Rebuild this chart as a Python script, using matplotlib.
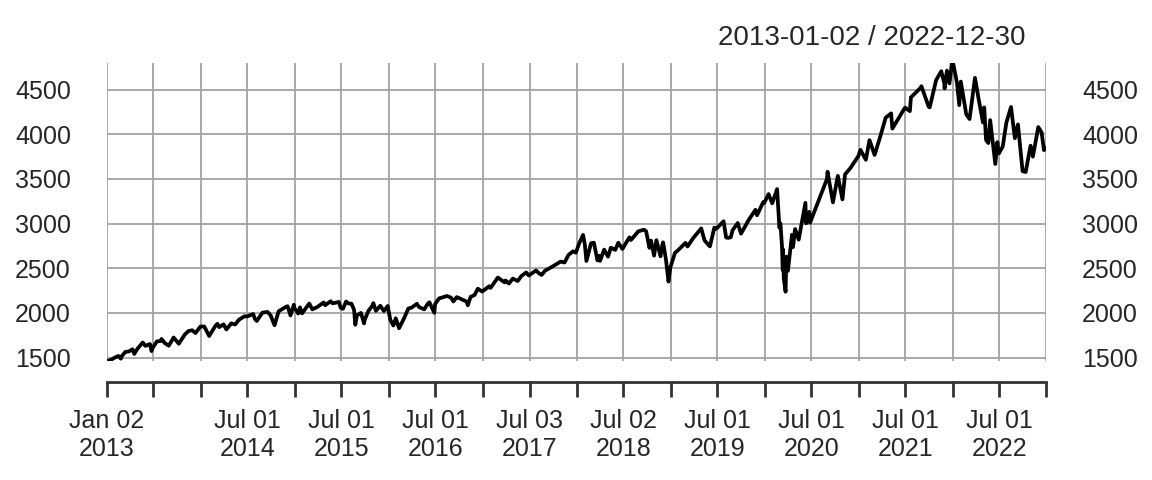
import matplotlib
matplotlib.use('Agg')
import matplotlib.pyplot as plt
import numpy as np
import pandas as pd

# S&P 500 close (key swings per month)
dates = [
    "2013-01-02", "2013-01-15", "2013-01-31", "2013-02-15", "2013-02-25", "2013-02-28", "2013-03-14", "2013-03-28",
    "2013-04-11", "2013-04-18", "2013-04-30", "2013-05-21", "2013-05-31", "2013-06-18", "2013-06-24", "2013-06-28",
    "2013-07-15", "2013-07-31", "2013-08-02", "2013-08-15", "2013-08-30", "2013-09-18", "2013-09-30", "2013-10-08",
    "2013-10-31", "2013-11-15", "2013-11-29", "2013-12-12", "2013-12-31",
    "2014-01-15", "2014-02-03", "2014-02-28", "2014-03-07", "2014-03-14", "2014-03-31", "2014-04-11", "2014-04-30",
    "2014-05-15", "2014-05-30", "2014-06-20", "2014-06-30", "2014-07-24", "2014-07-31", "2014-08-07", "2014-08-29",
    "2014-09-18", "2014-09-30", "2014-10-15", "2014-10-31", "2014-11-28", "2014-12-05", "2014-12-16", "2014-12-29",
    "2014-12-31",
    "2015-01-15", "2015-01-22", "2015-01-30", "2015-02-27", "2015-03-11", "2015-03-31", "2015-04-24", "2015-04-30",
    "2015-05-21", "2015-05-29", "2015-06-22", "2015-06-29", "2015-07-08", "2015-07-20", "2015-07-31", "2015-08-10",
    "2015-08-20", "2015-08-25", "2015-08-31", "2015-09-16", "2015-09-28", "2015-09-30", "2015-10-15", "2015-10-30",
    "2015-11-03", "2015-11-13", "2015-11-30", "2015-12-14", "2015-12-29", "2015-12-31",
    "2016-01-08", "2016-01-20", "2016-01-29", "2016-02-11", "2016-02-29", "2016-03-18", "2016-03-31", "2016-04-20",
    "2016-04-29", "2016-05-19", "2016-05-31", "2016-06-08", "2016-06-27", "2016-06-30", "2016-07-15", "2016-07-29",
    "2016-08-15", "2016-08-31", "2016-09-09", "2016-09-22", "2016-09-30", "2016-10-31", "2016-11-04", "2016-11-15",
    "2016-11-30", "2016-12-13", "2016-12-30",
    "2017-01-26", "2017-01-31", "2017-03-01", "2017-03-27", "2017-03-31", "2017-04-13", "2017-04-28", "2017-05-17",
    "2017-05-31", "2017-06-19", "2017-06-29", "2017-07-27", "2017-08-10", "2017-08-18", "2017-08-31", "2017-09-29",
    "2017-10-31", "2017-11-15", "2017-11-30", "2017-12-18", "2017-12-29",
    "2018-01-12", "2018-01-26", "2018-02-02", "2018-02-08", "2018-02-26", "2018-03-09", "2018-03-23", "2018-03-29",
    "2018-04-02", "2018-04-18", "2018-05-03", "2018-05-14", "2018-05-31", "2018-06-12", "2018-06-28", "2018-07-25",
    "2018-07-31", "2018-08-29", "2018-09-20", "2018-09-28", "2018-10-11", "2018-10-17", "2018-10-29", "2018-11-07",
    "2018-11-23", "2018-11-30", "2018-12-03", "2018-12-14", "2018-12-24", "2018-12-31",
    "2019-01-18", "2019-01-31", "2019-02-28", "2019-03-08", "2019-03-29", "2019-04-30", "2019-05-13", "2019-05-31",
    "2019-06-03", "2019-06-20", "2019-06-28", "2019-07-26", "2019-08-05", "2019-08-14", "2019-08-23", "2019-08-30",
    "2019-09-19", "2019-10-02", "2019-10-31", "2019-11-27", "2019-12-03", "2019-12-27", "2019-12-31",
    "2020-01-17", "2020-01-31", "2020-02-19", "2020-02-28", "2020-03-03", "2020-03-09", "2020-03-12", "2020-03-13",
    "2020-03-16", "2020-03-23", "2020-03-26", "2020-04-01", "2020-04-17", "2020-04-21", "2020-04-29", "2020-05-13",
    "2020-06-08", "2020-06-11", "2020-06-23", "2020-06-26", "2020-07-31", "2020-08-31", "2020-09-02", "2020-09-23",
    "2020-10-12", "2020-10-30", "2020-11-09", "2020-11-30", "2020-12-31",
    "2021-01-08", "2021-01-29", "2021-02-12", "2021-03-04", "2021-03-26", "2021-04-16", "2021-05-07", "2021-05-12",
    "2021-06-30", "2021-07-19", "2021-07-23", "2021-08-31", "2021-09-02", "2021-09-30", "2021-10-04", "2021-10-29",
    "2021-11-18", "2021-11-30", "2021-12-01", "2021-12-10", "2021-12-20", "2021-12-29", "2021-12-31",
    "2022-01-03", "2022-01-18", "2022-01-27", "2022-02-02", "2022-02-23", "2022-03-08", "2022-03-29", "2022-04-12",
    "2022-04-29", "2022-05-04", "2022-05-11", "2022-05-20", "2022-05-27", "2022-06-16", "2022-06-24", "2022-06-30",
    "2022-07-15", "2022-07-29", "2022-08-16", "2022-08-31", "2022-09-12", "2022-09-30", "2022-10-12", "2022-10-31",
    "2022-11-09", "2022-11-30", "2022-12-13", "2022-12-22", "2022-12-30",
]
close = [
    1462, 1472, 1498, 1519, 1488, 1515, 1563, 1569,
    1593, 1541, 1598, 1669, 1631, 1652, 1573, 1606,
    1682, 1686, 1709, 1661, 1633, 1725, 1682, 1655,
    1757, 1798, 1806, 1775, 1848,
    1848, 1742, 1859, 1878, 1841, 1872, 1815, 1884,
    1870, 1924, 1963, 1960, 1988, 1931, 1910, 2003,
    2011, 1972, 1862, 2018, 2068, 2075, 1972, 2091,
    2059,
    1993, 2063, 1995, 2105, 2040, 2068, 2117, 2086,
    2131, 2107, 2123, 2058, 2046, 2128, 2104, 2104,
    2035, 1868, 1972, 2000, 1882, 1920, 2023, 2079,
    2110, 2023, 2080, 2021, 2078, 2044,
    1922, 1859, 1940, 1829, 1932, 2049, 2060, 2102,
    2065, 2040, 2097, 2119, 2001, 2099, 2162, 2174,
    2190, 2171, 2128, 2177, 2168, 2126, 2085, 2180,
    2199, 2271, 2239,
    2298, 2279, 2396, 2342, 2363, 2329, 2384, 2357,
    2412, 2453, 2419, 2475, 2438, 2425, 2472, 2519,
    2575, 2564, 2648, 2690, 2674,
    2786, 2873, 2762, 2581, 2780, 2786, 2588, 2641,
    2582, 2708, 2630, 2730, 2705, 2786, 2716, 2846,
    2816, 2914, 2931, 2914, 2728, 2809, 2641, 2814,
    2633, 2760, 2790, 2600, 2351, 2507,
    2671, 2704, 2784, 2743, 2834, 2946, 2812, 2752,
    2744, 2954, 2942, 3026, 2844, 2840, 2847, 2926,
    3006, 2887, 3038, 3154, 3093, 3240, 3231,
    3330, 3226, 3386, 2954, 3003, 2747, 2481, 2711,
    2386, 2237, 2630, 2471, 2875, 2737, 2939, 2820,
    3232, 3002, 3131, 3009, 3271, 3500, 3580, 3237,
    3535, 3270, 3550, 3622, 3756,
    3825, 3714, 3934, 3768, 3975, 4185, 4233, 4063,
    4298, 4258, 4412, 4523, 4537, 4308, 4300, 4605,
    4705, 4567, 4513, 4712, 4568, 4793, 4766,
    4797, 4577, 4326, 4589, 4225, 4170, 4631, 4397,
    4132, 4300, 3935, 3901, 4158, 3667, 3912, 3785,
    3863, 4130, 4305, 3955, 4110, 3586, 3577, 3872,
    3749, 4080, 4019, 3822, 3840,
]

tick_dates = ["2013-01-02", "2013-07-01", "2014-01-02", "2014-07-01", "2015-01-02", "2015-07-01",
              "2016-01-04", "2016-07-01", "2017-01-03", "2017-07-03", "2018-01-02", "2018-07-02",
              "2019-01-02", "2019-07-01", "2020-01-02", "2020-07-01", "2021-01-04", "2021-07-01",
              "2022-01-03", "2022-07-01", "2022-12-30"]
tick_labels = ["Jan 02\n2013", "", "", "Jul 01\n2014", "", "Jul 01\n2015", "", "Jul 01\n2016", "",
               "Jul 03\n2017", "", "Jul 02\n2018", "", "Jul 01\n2019", "", "Jul 01\n2020", "",
               "Jul 01\n2021", "", "Jul 01\n2022", ""]
y_ticks = [1500, 2000, 2500, 3000, 3500, 4000, 4500]

x = pd.to_datetime(dates)
xt = pd.to_datetime(tick_dates)

plt.rcParams['font.family'] = ['Liberation Sans', 'DejaVu Sans']
fig = plt.figure(figsize=(11.52, 4.8), dpi=100)
ax = fig.add_axes([107/1152, 1 - 361/480, (1046 - 107)/1152, (361 - 63)/480])

ax.plot(x, close, color='black', lw=2.7, solid_joinstyle='round', zorder=3)

ax.set_xlim(xt[0], xt[-1])
ax.set_ylim(min(close), max(close))
ax.set_xticks(xt)
ax.set_xticklabels(tick_labels, linespacing=1.2)
ax.set_yticks(y_ticks)
ax.set_yticklabels([str(v) for v in y_ticks])

ax.grid(True, color='#a3a3a3', lw=1.3)
ax.set_axisbelow(True)
for s in ['top', 'left', 'right']:
    ax.spines[s].set_visible(False)
ax.spines['bottom'].set_position(('outward', 15))
ax.spines['bottom'].set_linewidth(2)
ax.spines['bottom'].set_color('#333333')

ax.tick_params(axis='x', direction='out', length=10.5, width=2, color='#333333', pad=9,
               labelsize=18, labelcolor='#262626')
ax.tick_params(axis='y', length=0, pad=26, labelright=True, labelsize=18, labelcolor='#262626')

fig.text(1026/1152, 1 - 45/480, "2013-01-02 / 2022-12-30", ha='right', va='baseline',
         fontsize=20, color='#262626')

fig.savefig('out.png', dpi=100)
